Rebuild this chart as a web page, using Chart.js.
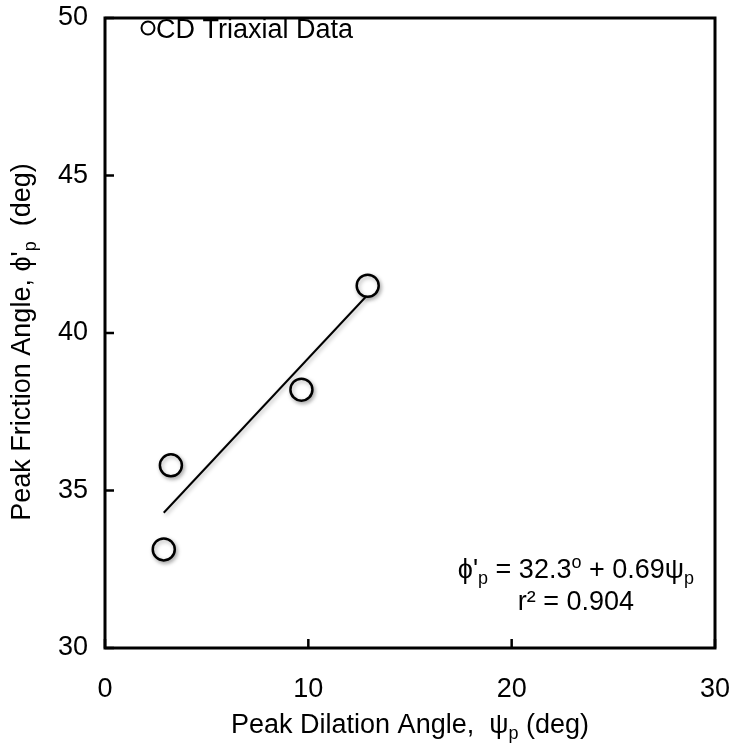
<!DOCTYPE html>
<html>
<head>
<meta charset="utf-8">
<script src="https://cdn.jsdelivr.net/npm/chart.js@4.4.1/dist/chart.umd.min.js"></script>
<style>
  html, body { margin: 0; padding: 0; background: #fff; }
  #wrap { width: 738px; height: 748px; }
</style>
</head>
<body>
<div id="wrap"><canvas id="frictionChart" width="738" height="748"></canvas></div>
<script>
// CD triaxial tests: peak dilation angle vs peak friction angle
const dilationAngles = [2.89, 3.24, 9.66, 12.92];
const frictionAngles = [33.13, 35.8, 38.2, 41.5];

// Linear fit phi'p = a + b * psi_p, drawn over the range of the data
const fitIntercept = 32.3;
const fitSlope = 0.69;
const fitR2 = 0.904;
const fitRange = [2.89, 12.92];

const xTicks = [0, 10, 20, 30];
const yTicks = [30, 35, 40, 45, 50];

const FONT = "'Liberation Sans', Arial, sans-serif";
const BASE_SIZE = 27;
const SMALL_SIZE = 18;

// Width of a line of text runs
function runsWidth(ctx, runs) {
    let total = 0;
    runs.forEach(r => {
        ctx.font = ((r.sub || r.sup) ? SMALL_SIZE : BASE_SIZE) + 'px ' + FONT;
        total += ctx.measureText(r.text).width;
    });
    return total;
}

// Draws a line of text made of runs, some of them as sub/superscripts
function drawRuns(ctx, runs, x, y, align) {
    const total = runsWidth(ctx, runs);
    let cx = align === 'right' ? x - total : align === 'center' ? x - total / 2 : x;
    ctx.textAlign = 'left';
    ctx.textBaseline = 'alphabetic';
    ctx.fillStyle = '#000';
    runs.forEach(r => {
        ctx.font = ((r.sub || r.sup) ? SMALL_SIZE : BASE_SIZE) + 'px ' + FONT;
        const dy = r.sub ? 6 : r.sup ? -10 : 0;
        ctx.fillText(r.text, cx, y + dy);
        cx += ctx.measureText(r.text).width;
    });
}

// Frame with inward tick marks
const framePlugin = {
    id: 'frame',
    beforeDatasetsDraw(chart) {
        const { ctx, chartArea: a, scales } = chart;
        ctx.save();
        ctx.strokeStyle = '#000';
        ctx.lineWidth = 2.5;
        ctx.beginPath();
        scales.x.ticks.forEach(t => {
            const px = scales.x.getPixelForValue(t.value);
            ctx.moveTo(px, a.bottom);
            ctx.lineTo(px, a.bottom - 9);
        });
        scales.y.ticks.forEach(t => {
            const py = scales.y.getPixelForValue(t.value);
            ctx.moveTo(a.left, py);
            ctx.lineTo(a.left + 9, py);
        });
        ctx.stroke();
        ctx.lineWidth = 3;
        ctx.strokeRect(a.left, a.top, a.right - a.left, a.bottom - a.top);
        ctx.restore();
    }
};

// Soft drop shadow under markers and fit line
const shadowPlugin = {
    id: 'shadow',
    beforeDatasetDraw(chart) {
        const ctx = chart.ctx;
        ctx.save();
        ctx.shadowColor = 'rgba(0, 0, 0, 0.3)';
        ctx.shadowBlur = 4;
        ctx.shadowOffsetX = 1.5;
        ctx.shadowOffsetY = 2;
    },
    afterDatasetDraw(chart) {
        chart.ctx.restore();
    }
};

// Axis titles, legend and fit equation
const textPlugin = {
    id: 'texts',
    afterDraw(chart) {
        const { ctx, chartArea: a } = chart;
        ctx.save();

        drawRuns(ctx, [
            { text: 'Peak Dilation Angle,  ψ' },
            { text: 'p', sub: true },
            { text: ' (deg)' }
        ], (a.left + a.right) / 2, 733, 'center');

        ctx.save();
        ctx.translate(20, (a.top + a.bottom) / 2 + 9);
        ctx.rotate(-Math.PI / 2);
        drawRuns(ctx, [
            { text: 'Peak Friction Angle, ϕ\'' },
            { text: 'p', sub: true },
            { text: '  (deg)' }
        ], 0, 10, 'center');
        ctx.restore();

        // legend
        ctx.beginPath();
        ctx.arc(148, 28, 6.5, 0, Math.PI * 2);
        ctx.lineWidth = 2;
        ctx.strokeStyle = '#000';
        ctx.stroke();
        drawRuns(ctx, [{ text: chart.data.datasets[0].label }], 156, 38, 'left');

        // fit equation, second line centred under the first
        const eqLine = [
            { text: 'ϕ\'' },
            { text: 'p', sub: true },
            { text: ' = ' + fitIntercept.toFixed(1) },
            { text: 'o', sup: true },
            { text: ' + ' + fitSlope.toFixed(2) + 'ψ' },
            { text: 'p', sub: true }
        ];
        const eqRight = 694;
        const eqWidth = runsWidth(ctx, eqLine);
        drawRuns(ctx, eqLine, eqRight, 578, 'right');
        drawRuns(ctx, [{ text: 'r² = ' + fitR2.toFixed(3) }], eqRight - eqWidth / 2, 610, 'center');

        ctx.restore();
    }
};

const points = dilationAngles.map((x, i) => ({ x: x, y: frictionAngles[i] }));
const fitLine = fitRange.map(x => ({ x: x, y: fitIntercept + fitSlope * x }));

const ctx = document.getElementById('frictionChart').getContext('2d');
new Chart(ctx, {
    type: 'scatter',
    data: {
        datasets: [
            {
                label: 'CD Triaxial Data',
                data: points,
                pointRadius: 11,
                pointBorderWidth: 2.5,
                pointBackgroundColor: '#fff',
                pointBorderColor: '#000',
                order: 0
            },
            {
                label: 'Fit',
                type: 'line',
                data: fitLine,
                borderColor: '#000',
                borderWidth: 2,
                pointRadius: 0,
                fill: false,
                order: 1
            }
        ]
    },
    options: {
        responsive: false,
        animation: false,
        devicePixelRatio: 1,
        layout: { padding: 0 },
        plugins: {
            legend: { display: false },
            tooltip: { enabled: false }
        },
        scales: {
            x: {
                type: 'linear',
                min: 0,
                max: 30,
                afterBuildTicks: scale => { scale.ticks = xTicks.map(v => ({ value: v })); },
                grid: { display: false, drawTicks: false },
                border: { display: false },
                ticks: { padding: 25, maxRotation: 0, color: '#000', font: { family: FONT, size: BASE_SIZE } }
            },
            y: {
                type: 'linear',
                min: 30,
                max: 50,
                afterBuildTicks: scale => { scale.ticks = yTicks.map(v => ({ value: v })); },
                grid: { display: false, drawTicks: false },
                border: { display: false },
                ticks: { padding: 17, color: '#000', font: { family: FONT, size: BASE_SIZE } }
            }
        }
    },
    plugins: [framePlugin, shadowPlugin, textPlugin,
        {
            // pin the plot frame to fixed margins
            id: 'fixedArea',
            afterLayout(chart) {
                const a = chart.chartArea;
                a.top = 18; a.bottom = 648; a.left = 105; a.right = 715;
                a.width = a.right - a.left; a.height = a.bottom - a.top;
                const x = chart.scales.x, y = chart.scales.y;
                x.left = a.left; x.right = a.right; x.width = a.width;
                x.top = a.bottom; x.bottom = 748; x.height = 100;
                y.top = a.top; y.bottom = a.bottom; y.height = a.height;
                y.left = 0; y.right = a.left; y.width = a.left;
                x.configure(); y.configure();
            }
        }]
});
</script>
</body>
</html>
